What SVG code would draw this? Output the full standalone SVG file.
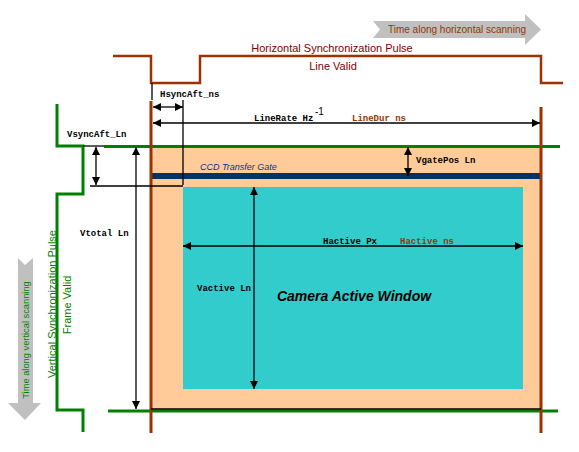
<svg xmlns="http://www.w3.org/2000/svg" width="579" height="452" viewBox="0 0 579 452">
<style>
.br{stroke:#993300;fill:none;stroke-width:2.5}
.gr{stroke:#008000;fill:none;stroke-width:3}
.bk{stroke:#000;fill:none;stroke-width:1.3}
.dim{stroke:#000;fill:none;stroke-width:1.3;marker-start:url(#ah);marker-end:url(#ah)}
.mono{font-family:"Liberation Mono","Courier New",monospace;font-size:9px;font-weight:bold;fill:#000}
.monob{font-family:"Liberation Mono","Courier New",monospace;font-size:9px;font-weight:bold;fill:#993300}
.sans{font-family:"Liberation Sans",Arial,sans-serif;font-size:11px}
</style>
<defs>
<marker id="ah" viewBox="0 0 8 8" refX="8" refY="4" markerWidth="8" markerHeight="8" markerUnits="userSpaceOnUse" orient="auto-start-reverse">
<path d="M0,0 L8,4 L0,8 z" fill="#000"/>
</marker>
</defs>
<rect width="579" height="452" fill="#fff"/>
<g id="scan-h">
<polygon points="373,21 525,21 525,14 541,29.5 525,45 525,38 373,38 380,29.5" fill="#c0c0c0"/>
<text x="457" y="33" class="sans" fill="#993300" text-anchor="middle" style="font-size:10px">Time along horizontal scanning</text>
</g>
<g id="scan-v">
<polygon points="18,258 25,265 33,258 33,403 41,403 25,420 8,403 18,403" fill="#c0c0c0"/>
<text transform="translate(29,340) rotate(-90)" class="sans" fill="#008000" text-anchor="middle" style="font-size:9.3px">Time along vertical scanning</text>
</g>
<g id="frame">
<rect x="151" y="147" width="390" height="263" fill="#ffcc99"/>
</g>
<g id="ccd-gate">
<rect x="151" y="173" width="390" height="6" fill="#003366"/>
<text x="200" y="170" font-family="Liberation Sans,Arial,sans-serif" font-size="9" font-style="italic" fill="#003399">CCD Transfer Gate</text>
</g>
<g id="active-window">
<rect x="183" y="187" width="340" height="202" fill="#33cccc"/>
<text x="354" y="301" font-family="Liberation Sans,Arial,sans-serif" font-size="14" font-weight="bold" font-style="italic" fill="#000" text-anchor="middle">Camera Active Window</text>
</g>
<g id="hsync">
<polyline class="br" points="113,56 151,56 151,83 200,83 200,56 541,56 541,83 563,83"/>
<text x="332" y="52" class="sans" fill="#800000" text-anchor="middle">Horizontal Synchronization Pulse</text>
<text x="333" y="70" class="sans" fill="#800000" text-anchor="middle">Line Valid</text>
</g>
<g id="vsync">
<polyline class="gr" points="57,104 57,146 83,146 83,194 57,194 57,410 83,410 83,432"/>
<text transform="translate(56,304) rotate(-90)" class="sans" fill="#008000" text-anchor="middle">Vertical Synchronization Pulse</text>
<text transform="translate(71,305) rotate(-90)" class="sans" fill="#008000" text-anchor="middle">Frame Valid</text>
</g>
<g id="edges">
<line class="gr" x1="104" y1="146.5" x2="560" y2="146.5"/>
<line class="gr" x1="108" y1="411" x2="558" y2="411"/>
<line x1="151" y1="101" x2="151" y2="433" stroke="#993300" stroke-width="3"/>
<line x1="541" y1="107" x2="541" y2="433" stroke="#993300" stroke-width="3"/>
</g>
<g id="connectors">
<line class="bk" x1="152" y1="83" x2="152" y2="100"/>
<line class="bk" x1="183" y1="100" x2="183" y2="185"/>
<line class="bk" x1="83" y1="146" x2="104" y2="146"/>
<line class="bk" x1="90" y1="186" x2="183" y2="186"/>
<line class="bk" x1="151" y1="409" x2="541" y2="409"/>
<line class="dim" x1="153" y1="107" x2="183" y2="107"/>
<line class="dim" x1="153" y1="123" x2="540" y2="123"/>
<line class="dim" x1="96" y1="147" x2="96" y2="185"/>
<line class="dim" x1="136" y1="147" x2="136" y2="409"/>
<line class="dim" x1="408" y1="147" x2="408" y2="176"/>
<line class="dim" x1="254" y1="187" x2="254" y2="389"/>
<line class="dim" x1="183" y1="246" x2="523" y2="246"/>
</g>
<g id="labels">
<text x="160" y="97" class="mono">HsyncAft_ns</text>
<text x="254" y="121" class="mono">LineRate Hz</text>
<text x="315" y="115" class="sans" style="font-size:10px" fill="#000">-1</text>
<text x="352" y="121" class="monob">LineDur ns</text>
<text x="67" y="137" class="mono">VsyncAft_Ln</text>
<text x="80" y="236" class="mono">Vtotal Ln</text>
<text x="416" y="163" class="mono">VgatePos Ln</text>
<text x="197" y="291" class="mono">Vactive Ln</text>
<text x="323" y="244" class="mono">Hactive Px</text>
<text x="400" y="244" class="monob">Hactive ns</text>
</g>
</svg>
